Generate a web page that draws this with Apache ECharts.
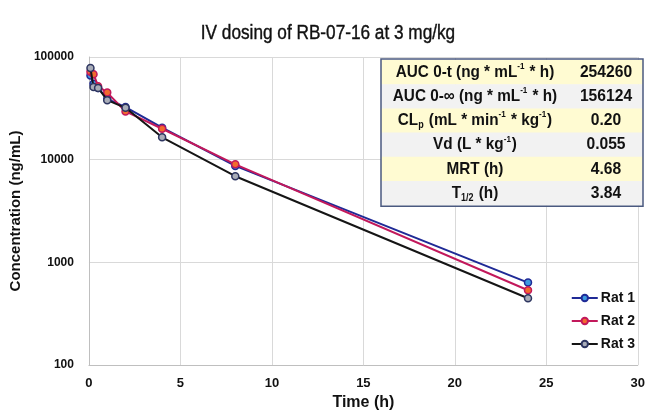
<!DOCTYPE html>
<html>
<head>
<meta charset="utf-8">
<script src="https://cdn.jsdelivr.net/npm/echarts@6/dist/echarts.min.js"></script>
<style>
html,body{margin:0;padding:0;background:#fff;}
#chart{width:648px;height:416px;}
</style>
</head>
<body>
<div id="chart"></div>
<script>
// ---- Data ----
var times = [0.083, 0.25, 0.5, 1, 2, 4, 8, 24];
var rat1 = [66000, 55000, 50000, 39000, 32500, 20500, 8700, 635];
var rat2 = [72000, 68000, 52000, 45000, 29500, 20000, 9000, 535];
var rat3 = [78000, 51000, 50000, 38000, 32000, 16500, 6900, 447];
var seriesNames = ['Rat 1', 'Rat 2', 'Rat 3'];
var xTicks = [0, 5, 10, 15, 20, 25, 30];
var yTicks = [100, 1000, 10000, 100000];
var titleText = 'IV dosing of RB-07-16 at 3 mg/kg';
// stats table (rich-text markup for sub/superscripts)
var statLabels = [
  'AUC 0-t (ng * mL{sup|-1} * h)',
  'AUC 0-\u221E (ng * mL{sup|-1} * h)',
  'CL{sub|p} (mL * min{sup|-1} * kg{sup|-1})',
  'Vd (L * kg{sup|-1})',
  'MRT (h)',
  'T{sub|1/2} (h)'
];
var statValues = ['254260', '156124', '0.20', '0.055', '4.68', '3.84'];

var FONT = '"Liberation Sans Narrow", "Arial Narrow", "Liberation Sans", Arial, sans-serif';

function pairs(vals) {
  return times.map(function (t, i) { return [t, vals[i]]; });
}

var lineColors = ['#1f2a96', '#c2185b', '#151515'];
var fillColors = ['#3d9be0', '#f26b2e', '#a9adb8'];
var borderColors = ['#1f2a96', '#c2185b', '#2d3560'];
var allData = [rat1, rat2, rat3];

var series = seriesNames.map(function (n, k) {
  return {
    name: n,
    type: 'line',
    data: pairs(allData[k]),
    symbol: 'circle',
    symbolSize: 7,
    lineStyle: { color: lineColors[k], width: 2 },
    itemStyle: { color: fillColors[k], borderColor: borderColors[k], borderWidth: 1.5 },
    emphasis: { disabled: true },
    z: 2 + k
  };
});

// Table graphic
var tblLeft = 381, tblTop = 59, rowH = 24.2, col1W = 188, col2W = 74;
var tblChildren = [];
var rowColors = ['#fffbd2', '#f2f2f2'];
statLabels.forEach(function (lab, i) {
  tblChildren.push({
    type: 'rect',
    z: 100,
    shape: { x: tblLeft, y: tblTop + 1 + i * rowH, width: col1W + col2W, height: rowH + 0.5 },
    style: { fill: rowColors[i % 2] },
    silent: true
  });
});
var richStyles = {
  sup: { fontSize: 9, fontWeight: 'bold', fontFamily: FONT, verticalAlign: 'top', lineHeight: 20, padding: [0, 1, 0, 0] },
  sub: { fontSize: 10, fontWeight: 'bold', fontFamily: FONT, verticalAlign: 'bottom', lineHeight: 18, padding: [0, 1, 0, 0] }
};
statLabels.forEach(function (lab, i) {
  tblChildren.push({
    type: 'text',
    z: 102,
    x: tblLeft + col1W / 2,
    y: tblTop + 1 + i * rowH + rowH / 2,
    scaleX: 0.9,
    style: {
      text: lab,
      fontSize: 17,
      fontWeight: 'bold',
      fontFamily: FONT,
      fill: '#111',
      align: 'center',
      verticalAlign: 'middle',
      lineHeight: 20,
      rich: richStyles
    },
    silent: true
  });
  tblChildren.push({
    type: 'text',
    z: 102,
    x: tblLeft + col1W + col2W / 2,
    y: tblTop + 1 + i * rowH + rowH / 2,
    scaleX: 0.92,
    style: {
      text: statValues[i],
      fontSize: 17,
      fontWeight: 'bold',
      fontFamily: FONT,
      fill: '#111',
      align: 'center',
      verticalAlign: 'middle'
    },
    silent: true
  });
});
tblChildren.push({
  type: 'rect',
  z: 103,
  shape: { x: tblLeft, y: tblTop, width: col1W + col2W, height: statLabels.length * rowH + 2 },
  style: { fill: null, stroke: '#4b5a80', lineWidth: 1.5 },
  silent: true
});

var chart = echarts.init(document.getElementById('chart'), null, { renderer: 'canvas' });
chart.setOption({
  animation: false,
  backgroundColor: '#fff',
  grid: { left: 88, right: 8, top: 57, bottom: 50, containLabel: false },
  xAxis: {
    type: 'value',
    min: 0, max: 30, interval: 5,
    name: 'Time (h)',
    nameLocation: 'middle',
    nameGap: 30,
    nameTextStyle: { fontFamily: FONT, fontSize: 16, fontWeight: 'bold', color: '#111' },
    axisLine: { show: true, lineStyle: { color: '#bfbfbf', width: 1 } },
    axisTick: { show: false },
    axisLabel: {
      fontFamily: FONT, fontSize: 13, fontWeight: 'bold', color: '#111', margin: 12,
      formatter: function (v) { return xTicks.indexOf(v) >= 0 ? String(v) : ''; }
    },
    splitLine: { show: true, lineStyle: { color: '#d9d9d9', width: 1 } }
  },
  yAxis: {
    type: 'log',
    logBase: 10,
    min: 100, max: 100000,
    name: 'Concentration (ng/mL)',
    nameLocation: 'middle',
    nameGap: 54,
    nameRotate: 90,
    nameTextStyle: { fontFamily: FONT, fontSize: 15, fontWeight: 'bold', color: '#111' },
    axisLine: { show: true, lineStyle: { color: '#bfbfbf', width: 1 } },
    axisTick: { show: false },
    axisLabel: {
      fontFamily: FONT, fontSize: 12, fontWeight: 'bold', color: '#111', margin: 15,
      formatter: function (v) { return yTicks.indexOf(Math.round(v)) >= 0 ? String(Math.round(v)) : ''; }
    },
    splitLine: { show: true, lineStyle: { color: '#d9d9d9', width: 1 } },
    minorSplitLine: { show: false }
  },
  legend: {
    orient: 'vertical',
    right: 8,
    top: 286,
    itemWidth: 26,
    itemHeight: 8,
    itemGap: 9,
    data: seriesNames,
    textStyle: { fontFamily: FONT, fontSize: 14, fontWeight: 'bold', color: '#111', padding: [0, 0, 0, -2] }
  },
  graphic: [
    {
      type: 'text',
      x: 328, y: 33,
      scaleX: 0.86,
      style: {
        text: titleText,
        fontFamily: FONT, fontSize: 20, fontWeight: 'normal', fill: '#111',
        stroke: '#111', lineWidth: 0.4,
        align: 'center', verticalAlign: 'middle'
      },
      silent: true
    },
    { type: 'group', children: tblChildren }
  ],
  series: series
});
</script>
</body>
</html>
